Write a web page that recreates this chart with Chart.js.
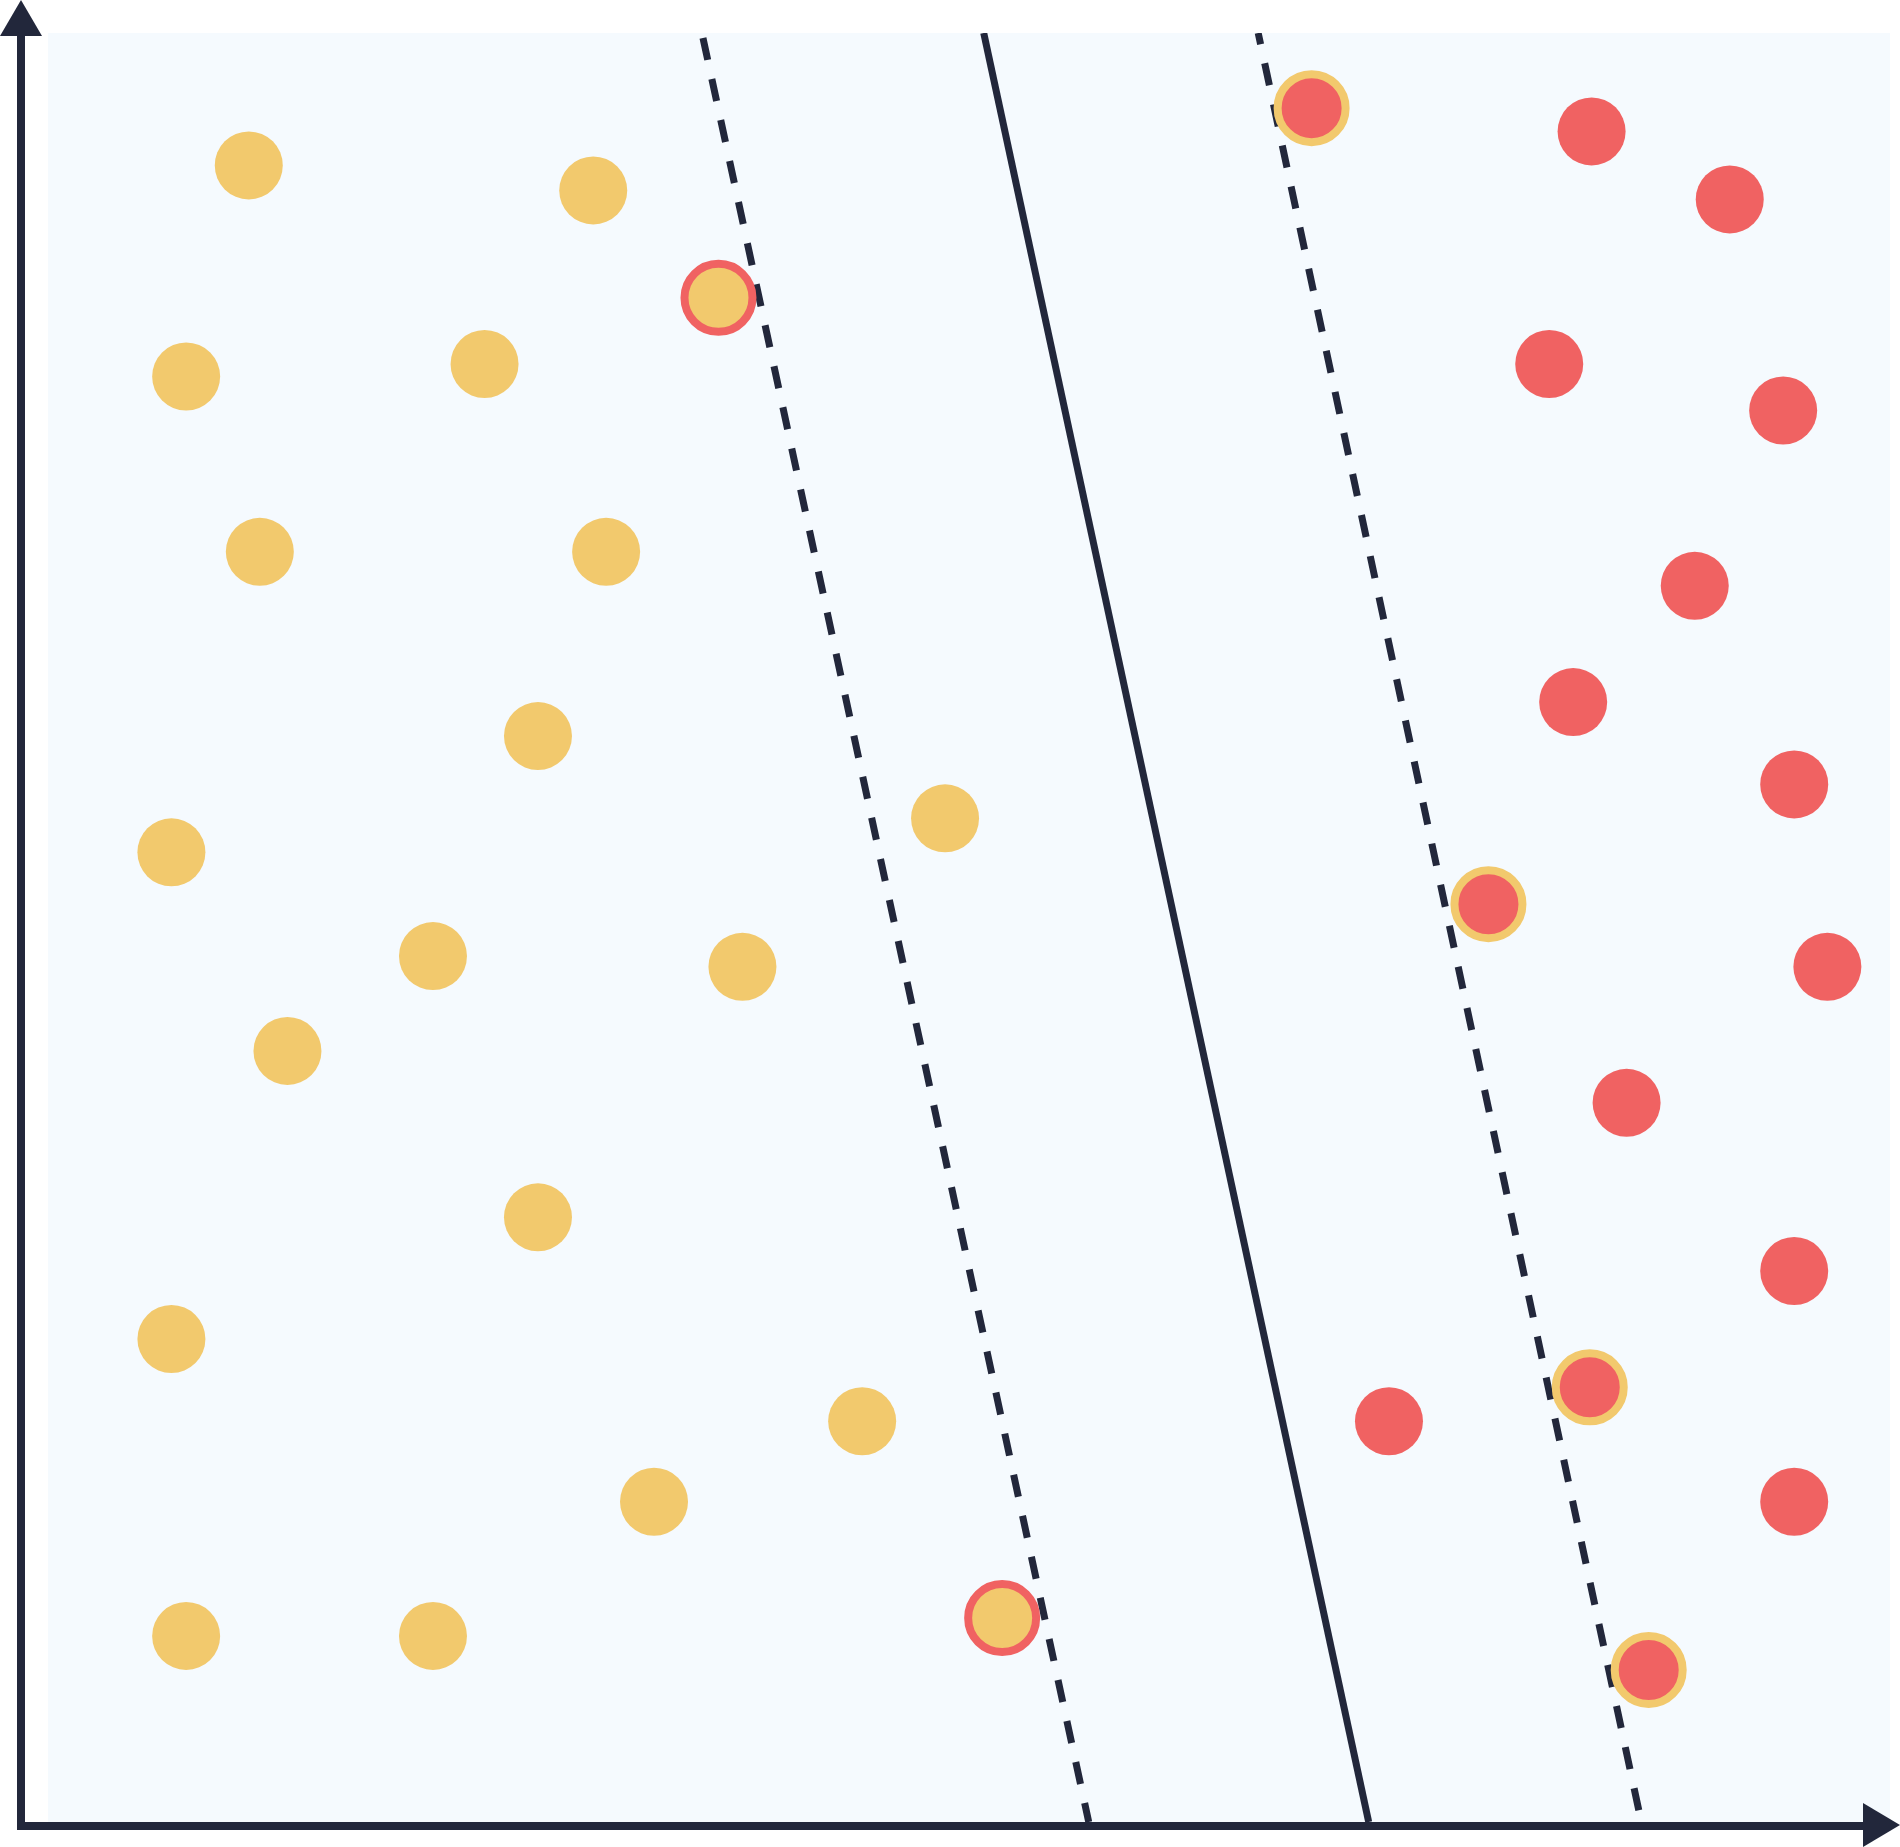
<!DOCTYPE html>
<html>
<head>
<meta charset="utf-8">
<script src="https://cdn.jsdelivr.net/npm/chart.js@4"></script>
<style>
  body { margin: 0; background: #ffffff; }
  canvas { display: block; }
</style>
</head>
<body>
<canvas id="svm" width="1900" height="1847"></canvas>
<script>
// class A (yellow) points
var yellowX = [1.09, 2.96, 0.75, 2.37, 1.15, 3.03, 2.66, 0.67, 4.87, 2.09, 3.77, 1.30, 2.66, 0.67, 4.42, 3.29, 0.75, 2.09];
var yellowY = [9.26, 9.12, 8.08, 8.15, 7.10, 7.10, 6.07, 5.42, 5.61, 4.84, 4.78, 4.31, 3.38, 2.70, 2.24, 1.79, 1.04, 1.04];
// yellow points ringed in red
var yellowRingX = [3.64, 5.18];
var yellowRingY = [8.52, 1.14];

// class B (red) points
var redX = [8.38, 9.13, 8.15, 9.42, 8.94, 8.28, 9.48, 9.66, 8.57, 9.48, 7.28, 9.48];
var redY = [9.45, 9.07, 8.15, 7.89, 6.91, 6.26, 5.80, 4.78, 4.02, 3.08, 2.24, 1.79];
// red points ringed in yellow
var redRingX = [6.86, 7.82, 8.37, 8.69];
var redRingY = [9.58, 5.13, 2.43, 0.85];

// decision boundary and margins (x at top, x at bottom)
var lineY = [10, 0];
var boundaryX = [5.08, 7.17];
var marginLowX = [3.55, 5.65];
var marginHighX = [6.57, 8.65];

var yellow = '#F2C96D';
var red = '#F06262';
var ink = '#22273B';

function pts(xs, ys) {
    return xs.map(function(x, i) { return { x: x, y: ys[i] }; });
}

var bgAndAxes = {
    id: 'bgAndAxes',
    beforeDraw: function(chart) {
        var c = chart.ctx, a = chart.chartArea;
        c.save();
        c.fillStyle = '#F5FAFE';
        c.fillRect(a.left, a.top, a.right - a.left, a.bottom - a.top);
        c.restore();
    },
    afterDraw: function(chart) {
        var c = chart.ctx, a = chart.chartArea;
        var ax = a.left - 27, ay = a.bottom + 4;
        c.save();
        c.strokeStyle = ink;
        c.fillStyle = ink;
        c.lineWidth = 8;
        c.lineCap = 'butt';
        c.beginPath();
        c.moveTo(ax, ay + 4);
        c.lineTo(ax, 30);
        c.stroke();
        c.beginPath();
        c.moveTo(ax - 4, ay);
        c.lineTo(1866, ay);
        c.stroke();
        // arrow heads
        c.beginPath();
        c.moveTo(ax, 0);
        c.lineTo(ax + 21, 36);
        c.lineTo(ax - 21, 36);
        c.closePath();
        c.fill();
        c.beginPath();
        c.moveTo(1900, ay - 1);
        c.lineTo(1863, ay - 23);
        c.lineTo(1863, ay + 21);
        c.closePath();
        c.fill();
        c.restore();
    }
};

function lineSet(xs, dashOffset) {
    var dashed = dashOffset !== null;
    return {
        type: 'line',
        data: pts(xs, lineY),
        borderColor: ink,
        borderWidth: 7,
        borderDash: dashed ? [22.5, 19.5] : [],
        borderDashOffset: dashed ? dashOffset : 0,
        pointRadius: 0,
        fill: false,
        order: 2
    };
}

function dotSet(xs, ys, fill, ring) {
    return {
        type: 'scatter',
        data: pts(xs, ys),
        backgroundColor: fill,
        borderColor: ring || fill,
        borderWidth: ring ? 8 : 0,
        pointRadius: 34,
        pointHoverRadius: 34,
        order: 1
    };
}

new Chart(document.getElementById('svm'), {
    type: 'scatter',
    data: {
        datasets: [
            dotSet(yellowX, yellowY, yellow),
            dotSet(yellowRingX, yellowRingY, yellow, red),
            dotSet(redX, redY, red),
            dotSet(redRingX, redRingY, red, yellow),
            lineSet(boundaryX, null),
            lineSet(marginLowX, 37),
            lineSet(marginHighX, 11)
        ]
    },
    options: {
        responsive: false,
        animation: false,
        layout: { autoPadding: false, padding: { left: 48, top: 33, right: 10, bottom: 25 } },
        scales: {
            x: { type: 'linear', min: 0, max: 10, display: false },
            y: { type: 'linear', min: 0, max: 10, display: false }
        },
        plugins: {
            legend: { display: false },
            tooltip: { enabled: false }
        }
    },
    plugins: [bgAndAxes]
});
</script>
</body>
</html>
